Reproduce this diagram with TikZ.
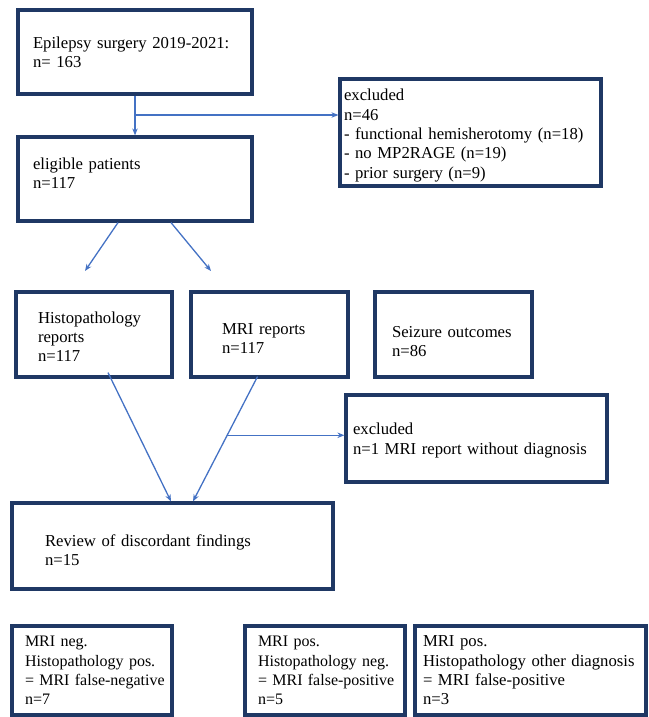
\documentclass[tikz,border=0pt]{standalone}
\usepackage{fontspec}
\setmainfont{Liberation Serif}
\usetikzlibrary{arrows.meta}
\definecolor{boxnavy}{HTML}{1F3864}
\definecolor{arrowblue}{HTML}{4472C4}

\begin{document}
\begin{tikzpicture}[%
  x=1pt, y=-1pt,
  font=\fontsize{16.7}{19.3}\selectfont,
  box/.style={draw=boxnavy, line width=3.2pt, align=left, inner xsep=2pt, inner ysep=2pt,
    minimum height=85pt},
  textpad/.style={execute at begin node={\leftskip=#1\hyphenpenalty=10000\exhyphenpenalty=10000\relax}},
  arr/.style={draw=arrowblue, line width=1.3pt, -{Stealth[length=7pt,width=5.5pt]}}]

  \useasboundingbox (0,0) rectangle (648,717);

  \node[box, text width=230pt, textpad=13pt, minimum height=84pt] (epi) at (135,52)
    {Epilepsy surgery 2019-2021:\\n= 163};
  \node[box, text width=257pt, textpad=2pt, minimum height=107pt, text height=17.6pt] (excl) at (470.5,132.5)
    {excluded\\n=46\\- functional hemisherotomy (n=18)\\- no MP2RAGE (n=19)\\- prior surgery (n=9)};
  \node[box, text width=230pt, textpad=13pt, minimum height=84pt, text depth=31.5pt] (elig) at (135,179)
    {eligible patients\\n=117};

  \node[box, text width=152pt, textpad=20pt, text height=15.6pt] (histo) at (94,334.5)
    {Histopathology\\reports\\n=117};
  \node[box, text width=153pt, textpad=29pt, text height=19.6pt] (mri) at (269.5,334.5)
    {MRI reports\\n=117};
  \node[box, text width=153pt, textpad=15pt, text height=25.6pt] (seiz) at (453.5,334.5)
    {Seizure outcomes\\n=86};
  \node[box, text width=257pt, textpad=5pt, minimum height=87pt, text height=15.6pt] (exclmri) at (476.5,438.5)
    {excluded\\n=1 MRI report without diagnosis};

  \node[box, text width=317pt, textpad=31pt, minimum height=86pt, text height=19.6pt] (review) at (172.5,546)
    {Review of discordant findings\\n=15};

  \node[box, text width=156pt, textpad=11pt, minimum height=89pt, font=\fontsize{16}{19.3}\selectfont] (falseneg) at (92,670.5)
    {MRI neg.\\Histopathology~pos.\\=~MRI~false-negative\\n=7};
  \node[box, text width=156pt, textpad=11pt, minimum height=89pt, font=\fontsize{16}{19.3}\selectfont] (falsepos) at (325,670.5)
    {MRI pos.\\Histopathology~neg.\\=~MRI~false-positive\\n=5};
  \node[box, text width=227pt, textpad=6pt, minimum height=89pt] (otherdx) at (530.5,670.5)
    {MRI pos.\\Histopathology~other~diagnosis\\=~MRI~false-positive\\n=3};

  \coordinate (split) at (135,115);
  \coordinate (tohisto) at (85,271);
  \coordinate (tomri) at (211,271);

  \draw[arr] (epi) -- (elig);
  \draw[arr] (split) -- (excl.west |- split);
  \draw[arr] ([xshift=-17pt]elig.south) -- (tohisto);
  \draw[arr] ([xshift=36pt]elig.south) -- (tomri);
  \draw[arr] ([xshift=14pt,yshift=6pt]histo.south) -- ([xshift=-1.5pt]review.north);
  \draw[arr] ([xshift=-12pt,yshift=2pt]mri.south) -- coordinate[pos=0.47] (split2) ([xshift=20.5pt]review.north);
  \draw[arr] (split2) -- (exclmri.west |- split2);
\end{tikzpicture}
\end{document}
